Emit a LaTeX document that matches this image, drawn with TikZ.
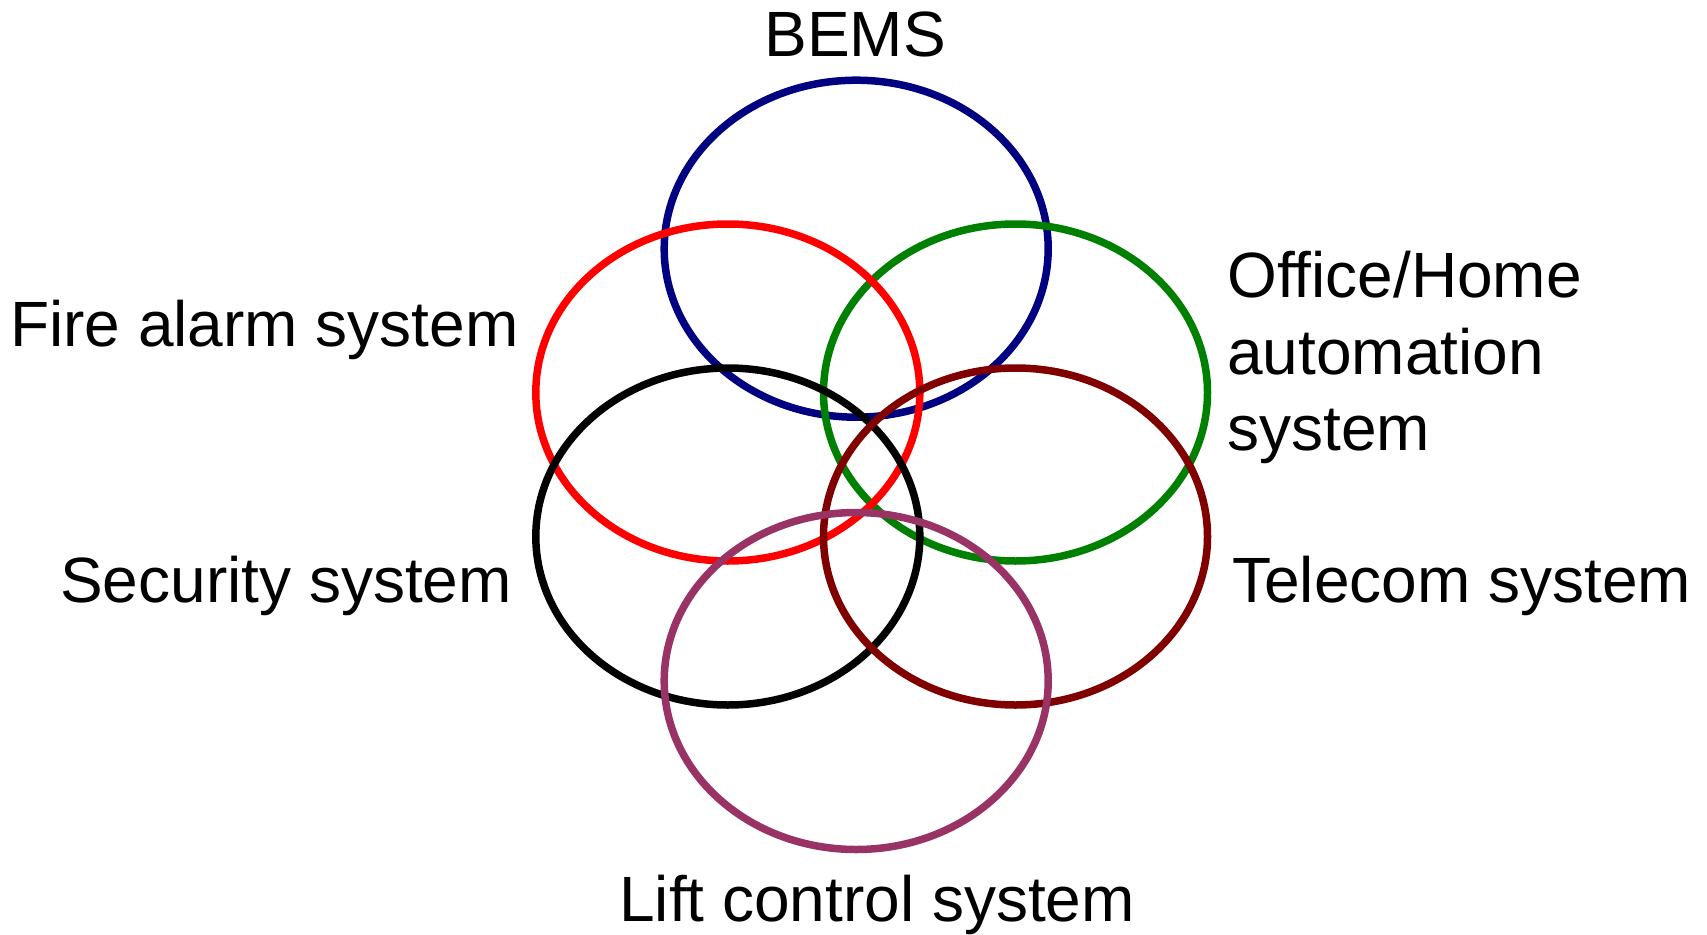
\documentclass[tikz,border=0pt]{standalone}
\usepackage{fontspec}
\setmainfont{Liberation Sans}
\definecolor{bemsblue}{RGB}{0,0,128}
\definecolor{firered}{RGB}{255,0,0}
\definecolor{officegreen}{RGB}{0,128,0}
\definecolor{telecomred}{RGB}{128,0,0}
\definecolor{liftpurple}{RGB}{153,51,102}
\tikzset{
  ring/.style={draw, line width=7.5pt},
  label text/.style={inner sep=0pt, font=\fontsize{64}{77}\selectfont, text=black}
}
\begin{document}
\begin{tikzpicture}[x=1pt, y=-1pt]
  \useasboundingbox[fill=white] (0,0) rectangle (1707,934);

  % overlapping system rings
  \draw[ring, bemsblue]    (856.2,248.7) ellipse [x radius=192, y radius=168.5];
  \draw[ring, officegreen] (1015.5,392.5) ellipse [x radius=192, y radius=168.5];
  \draw[ring, firered]     (727.8,392.5) ellipse [x radius=192, y radius=168.5];
  \draw[ring, black]       (727.8,536.5) ellipse [x radius=192, y radius=168.5];
  \draw[ring, telecomred]  (1015.5,536.5) ellipse [x radius=192, y radius=168.5];
  \draw[ring, liftpurple]  (856.2,681) ellipse [x radius=192, y radius=168.5];

  % labels
  \node[label text, anchor=base] (bems) at (855,56.6) {BEMS};
  \node[label text, anchor=base west] (fire) at (10,346) {Fire alarm system};
  \node[label text, anchor=base west] (security) at (60,602) {Security system};
  \node[label text, anchor=base west] (officeA) at (1227,297) {Office/Home};
  \node[label text, anchor=base west] (officeB) at (1227,374) {automation};
  \node[label text, anchor=base west] (officeC) at (1227,450) {system};
  \node[label text, anchor=base west] (telecom) at (1232,602) {Telecom system};
  \node[label text, anchor=base west] (lift) at (619,921) {Lift control system};
\end{tikzpicture}
\end{document}
